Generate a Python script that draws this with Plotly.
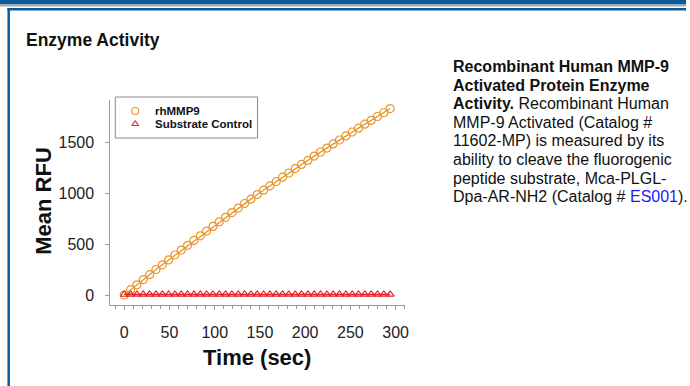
import plotly.graph_objects as go

W, H = 690, 386

time_sec = [0, 7, 14, 21, 28, 35, 42, 49, 56, 63, 70, 77, 84, 91, 98, 105, 112, 119, 126, 133,
            140, 147, 154, 161, 168, 175, 182, 189, 196, 203, 210, 217, 224, 231, 238, 245, 252,
            259, 266, 273, 280, 287, 294]
rhmmp9 = [0, 52, 100, 151, 199, 250, 296, 345, 392, 441, 487, 535, 580, 627, 672, 718, 762, 808,
          852, 897, 940, 985, 1028, 1070, 1113, 1155, 1196, 1240, 1280, 1320, 1362, 1402, 1441,
          1481, 1520, 1560, 1598, 1636, 1675, 1712, 1750, 1787, 1828]
substrate_control = [5, 6, 6, 6, 6, 6, 6, 6, 6, 6, 6, 6, 6, 6, 6, 6, 6, 6, 6, 6, 6, 6, 6, 6, 6,
                     6, 6, 6, 6, 6, 6, 6, 6, 6, 6, 6, 6, 6, 6, 6, 6, 6, 6]
series_names = ["rhMMP9", "Substrate Control"]

x_ticks = [0, 50, 100, 150, 200, 250, 300]
y_ticks = [0, 500, 1000, 1500]

ORANGE = "#E8962C"
RED = "#E2262B"
AXIS = "#9a9a9a"
BLUE = "#0B5A9C"
FONT = "Liberation Sans, Arial, sans-serif"

def px(x):
    return x / W

def py(y):
    return 1 - y / H

fig = go.Figure()
fig.add_trace(go.Scatter(x=time_sec, y=rhmmp9, mode="lines+markers", name=series_names[0],
                         showlegend=False,
                         line=dict(color=ORANGE, width=1.3),
                         marker=dict(symbol="circle-open", size=8, color=ORANGE, line=dict(width=1.2))))
fig.add_trace(go.Scatter(x=time_sec, y=substrate_control, mode="lines+markers", name=series_names[1],
                         showlegend=False,
                         line=dict(color=RED, width=1.5),
                         marker=dict(symbol="triangle-up-open", size=7, color=RED, line=dict(width=1.2))))

# hand-built legend (pixel overlay axes) so the item spacing matches the reference
LEG_L, LEG_T, LEG_R, LEG_B = 116, 97, 259, 138
leg_sym_x = 136
leg_rows_y = [111, 124]
leg_symbols = [("circle-open", 7, ORANGE), ("triangle-up-open", 6, RED)]
for (sym, sz, col), ry in zip(leg_symbols, leg_rows_y):
    fig.add_trace(go.Scatter(x=[leg_sym_x], y=[ry], xaxis="x2", yaxis="y2", mode="markers",
                             showlegend=False, hoverinfo="skip",
                             marker=dict(symbol=sym, size=sz, color=col, line=dict(width=1.1))))

shapes = [
    dict(type="rect", xref="paper", yref="paper", x0=0, x1=1, y0=py(4.5), y1=1,
         fillcolor=BLUE, line=dict(width=0), layer="above"),
    dict(type="rect", xref="paper", yref="paper", x0=0, x1=1, y0=py(6.5), y1=py(4.5),
         fillcolor="#A7A9AC", line=dict(width=0), layer="above"),
    dict(type="rect", xref="paper", yref="paper", x0=px(7.5), x1=1, y0=py(10.5), y1=py(8),
         fillcolor=BLUE, line=dict(width=0), layer="above"),
    dict(type="rect", xref="paper", yref="paper", x0=px(7.5), x1=px(10), y0=0, y1=py(8),
         fillcolor=BLUE, line=dict(width=0), layer="above"),
    dict(type="rect", xref="paper", yref="paper", x0=px(LEG_L), x1=px(LEG_R), y0=py(LEG_B), y1=py(LEG_T),
         fillcolor="white", line=dict(width=1, color="#8a8a8a"), layer="below"),
]

annotations = [
    dict(text="<b>Enzyme Activity</b>", x=px(24), y=py(40), xref="paper", yref="paper",
         xanchor="left", yanchor="middle", showarrow=False,
         font=dict(family=FONT, size=17.5, color="#111")),
    dict(text="<b>Mean RFU</b>", x=px(44), y=py(201), xref="paper", yref="paper",
         xanchor="center", yanchor="middle", showarrow=False, textangle=-90,
         font=dict(family=FONT, size=22, color="#111")),
    dict(text="<b>Time (sec)</b>", x=px(259), y=py(357), xref="paper", yref="paper",
         xanchor="center", yanchor="middle", showarrow=False,
         font=dict(family=FONT, size=22, color="#111")),
]
for name, ry in zip(series_names, leg_rows_y):
    annotations.append(dict(text="<b>" + name + "</b>", x=px(154), y=py(ry), xref="paper", yref="paper",
                            xanchor="left", yanchor="middle", showarrow=False,
                            font=dict(family=FONT, size=11.5, color="#111")))

desc_lines = [
    "<b>Recombinant Human MMP-9</b>",
    "<b>Activated Protein Enzyme</b>",
    "<b>Activity.</b> Recombinant Human",
    "MMP-9 Activated (Catalog #",
    "11602-MP) is measured by its",
    "ability to cleave the fluorogenic",
    "peptide substrate, Mca-PLGL-",
    "Dpa-AR-NH2 (Catalog # <span style='color:#1a1aff'>ES001</span>).",
]
for i, line in enumerate(desc_lines):
    annotations.append(dict(text=line, x=px(454), y=py(66.5 + i * 18.6), xref="paper", yref="paper",
                            xanchor="left", yanchor="middle", showarrow=False,
                            font=dict(family=FONT, size=16, color="#111")))

fig.update_layout(
    width=W, height=H, margin=dict(l=0, r=0, t=0, b=0),
    paper_bgcolor="white", plot_bgcolor="rgba(0,0,0,0)",
    shapes=shapes, annotations=annotations, showlegend=False,
    xaxis=dict(domain=[px(111), px(407)], range=[-15.4, 310], tickvals=x_ticks,
               showgrid=False, zeroline=False, showline=True, linecolor=AXIS, linewidth=1,
               ticks="outside", ticklen=4, tickcolor=AXIS, ticklabelstandoff=9,
               minor=dict(dtick=10, tick0=0, ticks="outside", ticklen=3, tickcolor=AXIS),
               tickfont=dict(family=FONT, size=16, color="#222")),
    yaxis=dict(domain=[py(305), py(100)], range=[-98, 1912], tickvals=y_ticks,
               showgrid=False, zeroline=False, showline=True, linecolor=AXIS, linewidth=1,
               ticks="outside", ticklen=4, tickcolor=AXIS, ticklabelstandoff=8,
               tickfont=dict(family=FONT, size=16, color="#222")),
    xaxis2=dict(domain=[0, 1], range=[0, W], visible=False, anchor="y2", fixedrange=True),
    yaxis2=dict(domain=[0, 1], range=[H, 0], visible=False, anchor="x2", fixedrange=True),
)

fig.write_html("out.html", config={"displayModeBar": False},
               post_script="document.body.style.margin='0';document.body.style.overflow='hidden';")
